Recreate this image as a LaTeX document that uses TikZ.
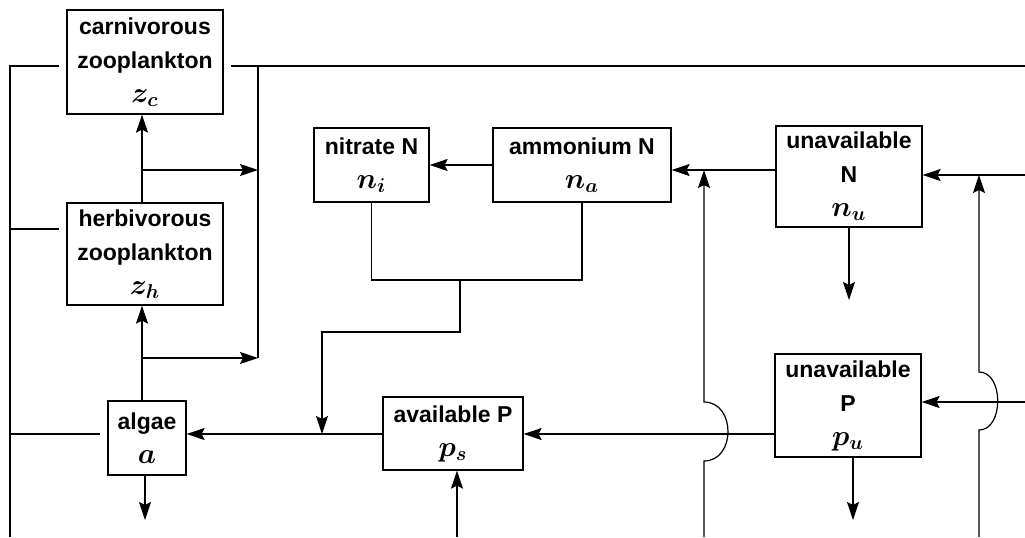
\documentclass[tikz,border=0pt]{standalone}
\usepackage{fontspec}
\setmainfont{Liberation Sans}
\usetikzlibrary{arrows.meta}
\newcommand\pvar[1]{{\fontsize{14}{17}\selectfont$#1$}}

\begin{document}
\begin{tikzpicture}[x=0.5pt,y=-0.5pt,line width=.6pt,
  every node/.style={font=\fontsize{11.5}{17}\selectfont\bfseries\boldmath},
  pool/.style={draw,align=center,inner sep=0pt},
  arr/.style={-{Stealth[length=9pt,width=6pt,inset=1.5pt]}},
  gap/.style={shorten >=3.5pt}]
\useasboundingbox (0,0) rectangle (1025,537);
\node[pool,minimum width=78pt,minimum height=52pt] (carn) at (145,62) {carnivorous\\zooplankton\\\pvar{z_c}};
\node[pool,minimum width=78pt,minimum height=51pt] (herb) at (145,254) {herbivorous\\zooplankton\\\pvar{z_h}};
\node[pool,minimum width=39pt,minimum height=37pt] (alg) at (147,438) {algae\\\pvar{a}};
\node[pool,minimum width=57.5pt,minimum height=37pt] (nit) at (371.5,165) {nitrate N\\\pvar{n_i}};
\node[pool,minimum width=89pt,minimum height=37pt] (amm) at (582,165) {ammonium N\\\pvar{n_a}};
\node[pool,minimum width=73pt,minimum height=50.5pt] (unN) at (849,176.5) {unavailable\\N\\\pvar{n_u}};
\node[pool,minimum width=70pt,minimum height=36.5pt] (avP) at (453,433.5) {available P\\\pvar{p_s}};
\node[pool,minimum width=73pt,minimum height=51.5pt] (unP) at (848,405.5) {unavailable\\P\\\pvar{p_u}};
\coordinate (tl) at (10,66);
\coordinate (tr) at (1025,66);
\coordinate (bl) at (10,537);
\coordinate (hl) at (10,229);
\coordinate (al) at (10,434);
\coordinate (rv) at (258,66);
\coordinate (c1) at (142,170);
\coordinate (c2) at (142,358);
\coordinate (ad) at (145,520);
\coordinate (pl) at (0,434);
\coordinate (m) at (460,280);
\coordinate (k) at (322,332);
\coordinate (nl) at (0,170);
\coordinate (nr) at (1025,175);
\coordinate (pr) at (1025,402);
\coordinate (j1) at (704,537);
\coordinate (j2) at (979,537);
\coordinate (nd) at (849,300);
\coordinate (pd) at (853,520);
\coordinate (ps) at (457,537);
\draw[gap] (bl) -- (tl) -- (tl -| carn.west);
\draw[gap] (tr) -- (tl -| carn.east);
\draw[gap] (hl) -- (hl -| herb.west);
\draw[gap] (al) -- (al -| alg.west);
\draw (rv) -- (rv |- c2);
\draw[arr] (herb.north -| c1) -- (carn.south -| c1);
\draw[arr] (alg.north -| c1) -- (herb.south -| c1);
\draw[arr] (c1) -- (c1 -| rv);
\draw[arr] (c2) -- (c2 -| rv);
\draw[arr] (alg.south -| ad) -- (ad);
\draw[arr] (avP.west |- pl) -- (alg.east |- pl);
\draw[arr] (unP.west |- pl) -- (avP.east |- pl);
\draw[arr] (ps) -- (ps |- avP.south);
\draw[arr] (amm.west) -- (nit.east);
\draw (nit.south) -- (nit.south |- m) -- (amm.south |- m) -- (amm.south);
\draw[arr] (m) -- (m |- k) -- (k) -- (k |- pl);
\draw[arr] (unN.west |- nl) -- (amm.east |- nl);
\draw[arr] (j1) -- (704,461) .. controls (736,461) and (736,402) .. (704,402) -- (j1 |- nl);
\draw[arr] (nr) -- (unN.east |- nr);
\draw[arr] (j2) -- (979,430) .. controls (1004,430) and (1004,372) .. (979,372) -- (j2 |- nr);
\draw[arr] (pr) -- (unP.east |- pr);
\draw[arr] (unN.south) -- (nd);
\draw[arr] (unP.south -| pd) -- (pd);
\end{tikzpicture}
\end{document}
